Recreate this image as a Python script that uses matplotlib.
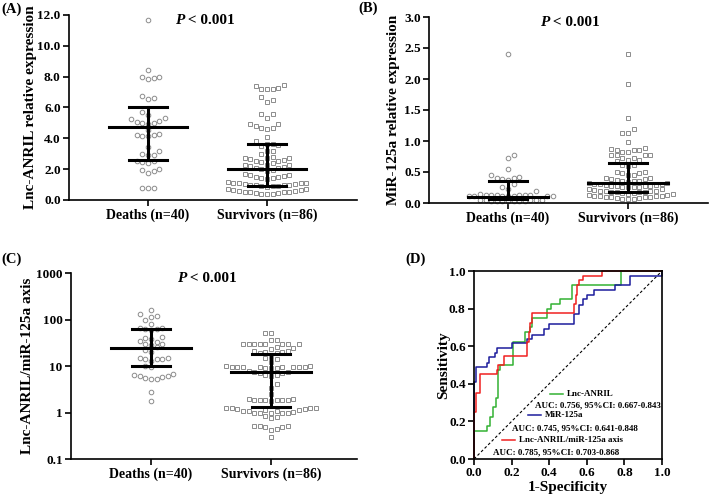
import numpy as np
import matplotlib
matplotlib.use("Agg")
import matplotlib.pyplot as plt
from matplotlib.ticker import FixedLocator, FuncFormatter

plt.rcParams['font.family'] = ['Liberation Serif', 'DejaVu Serif']
plt.rcParams['font.weight'] = 'bold'
plt.rcParams['axes.labelweight'] = 'bold'

# ---- data ----
groups = ['Deaths (n=40)', 'Survivors (n=86)']

# (A) Lnc-ANRIL relative expression
anril_deaths = [11.7, 8.45, 7.95, 7.85, 7.9, 8.0, 6.6, 6.55, 6.75, 5.7, 5.5,
                5.3, 5.1, 5.0, 4.95, 5.0, 5.05, 5.25, 4.55, 4.3, 4.2, 4.15, 4.2,
                4.15, 3.45, 3.2, 3.0, 2.9, 2.9, 2.5, 2.4, 2.45, 2.55, 2.0, 1.85,
                1.75, 1.95, 0.8, 0.8, 0.8]
anril_survivors = [7.2, 7.2, 7.2, 7.25, 7.4, 7.45,
                   6.35, 6.5, 6.65,
                   5.3, 5.6, 5.6,
                   4.6, 4.65, 4.7, 4.8, 4.95, 4.95,
                   4.1,
                   3.5, 3.55, 3.6, 3.65, 3.8,
                   3.0, 3.2, 3.2,
                   2.4, 2.45, 2.55, 2.55, 2.6, 2.65, 2.7, 2.75, 2.75, 2.8,
                   1.9, 1.95, 2.0, 2.05, 2.1, 2.15, 2.2, 2.25, 2.3, 2.3,
                   1.35, 1.4, 1.45, 1.5, 1.5, 1.55, 1.6, 1.65, 1.7,
                   0.85, 0.88, 0.9, 0.92, 0.95, 0.95, 1.0, 1.0, 1.05, 1.05, 1.1,
                   1.1, 1.12, 1.12, 1.15,
                   0.4, 0.42, 0.42, 0.45, 0.45, 0.5, 0.5, 0.55, 0.55, 0.6, 0.6,
                   0.65, 0.65, 0.7, 0.7]
anril_stats = [[2.59, 4.75, 6.01], [0.93, 1.99, 3.63]]   # Q1, median, Q3

# (B) miR-125a relative expression
mir_deaths = [2.4, 0.77, 0.73, 0.55, 0.45, 0.42, 0.40, 0.40, 0.38, 0.37, 0.30,
              0.25, 0.20, 0.22,
              0.11, 0.11, 0.115, 0.115, 0.12, 0.12, 0.12, 0.125, 0.125, 0.13,
              0.13, 0.135, 0.135, 0.14,
              0.03, 0.03, 0.03, 0.035, 0.035, 0.04, 0.04, 0.045, 0.045, 0.05,
              0.05, 0.055]
mir_survivors = [2.4, 1.92, 1.37, 1.2, 1.13, 1.13, 0.99, 0.87, 0.86, 0.85, 0.83,
                 0.83, 0.85, 0.88, 0.78, 0.77, 0.77, 0.78, 0.72, 0.70, 0.68, 0.70,
                 0.72, 0.62, 0.60, 0.62, 0.5, 0.48, 0.45, 0.45, 0.48, 0.5,
                 0.34, 0.35, 0.35, 0.36, 0.37, 0.38, 0.39, 0.40, 0.41,
                 0.25, 0.25, 0.26, 0.26, 0.27, 0.27, 0.28, 0.28, 0.29, 0.29, 0.3,
                 0.3, 0.31, 0.32, 0.32,
                 0.15, 0.15, 0.16, 0.16, 0.17, 0.17, 0.18, 0.18, 0.19, 0.19, 0.2,
                 0.2, 0.21, 0.22, 0.22,
                 0.06, 0.07, 0.07, 0.08, 0.08, 0.09, 0.09, 0.1, 0.1, 0.11, 0.11,
                 0.12, 0.12, 0.13, 0.13]
mir_stats = [[0.06, 0.1, 0.36], [0.18, 0.32, 0.65]]

# (C) Lnc-ANRIL/miR-125a axis
axis_deaths = [160, 130, 120, 115, 100, 80, 65, 65, 62, 63, 60, 42, 40, 38, 35,
               33, 30, 30, 28, 25, 22, 20, 15, 14, 14, 13, 14, 15, 10, 9.5, 6.8,
               6.2, 5.8, 5.3, 5.3, 5.6, 6.0, 6.5, 2.7, 1.8]
axis_survivors = [52, 52, 37, 30, 30, 30, 30, 30, 30, 30, 30, 37, 25, 24, 21, 20,
                  19, 19, 20, 21, 23, 16, 15, 14, 12,
                  9.8, 9.5, 9.5, 9.3, 9.3, 9.0, 9.0, 9.0, 9.3, 9.3, 9.5, 9.5, 9.8,
                  8, 7.5, 7, 6.5, 6.2, 6.5, 7, 7.5, 4.2, 3.4, 2.5,
                  1.95, 1.9, 1.9, 1.85, 1.85, 1.8, 1.85, 1.9, 1.95,
                  1.25, 1.22, 1.2, 1.15, 1.1, 1.1, 1.05, 1.0, 1.0, 0.98, 0.97, 1.0,
                  1.1, 1.15, 1.2, 1.22, 1.25,
                  0.85, 0.8, 0.75, 0.52, 0.5, 0.48, 0.45, 0.42, 0.48, 0.5, 0.3]
axis_stats = [[10.1, 24, 62], [1.3, 7.5, 18]]

# (D) ROC curves (1-specificity, sensitivity), step points
anril_fpr = [0, 0, 0.07, 0.085, 0.10, 0.115, 0.125, 0.13, 0.14, 0.21, 0.27, 0.30,
             0.31, 0.39, 0.41, 0.46, 0.52, 0.78, 1.0]
anril_tpr = [0, 0.15, 0.175, 0.225, 0.275, 0.325, 0.375, 0.475, 0.5, 0.625, 0.675,
             0.70, 0.75, 0.80, 0.825, 0.85, 0.925, 1.0, 1.0]
mir_fpr = [0, 0, 0.01, 0.07, 0.08, 0.11, 0.12, 0.20, 0.28, 0.31, 0.37, 0.40, 0.53,
           0.56, 0.58, 0.60, 0.64, 0.75, 0.83, 1.0, 1.0]
mir_tpr = [0, 0.41, 0.49, 0.51, 0.54, 0.565, 0.59, 0.615, 0.64, 0.66, 0.69, 0.72,
           0.77, 0.82, 0.85, 0.875, 0.90, 0.925, 0.975, 0.975, 1.0]
ratio_fpr = [0, 0, 0.01, 0.03, 0.12, 0.13, 0.16, 0.28, 0.29, 0.30, 0.31, 0.53,
             0.54, 0.55, 0.56, 0.58, 0.68, 1.0]
ratio_tpr = [0, 0.25, 0.35, 0.45, 0.475, 0.50, 0.55, 0.625, 0.675, 0.725, 0.775,
             0.825, 0.875, 0.925, 0.95, 0.975, 1.0, 1.0]
roc_names = ['Lnc-ANRIL', 'MiR-125a', 'Lnc-ANRIL/miR-125a axis']
roc_auc = ['AUC: 0.756, 95%CI: 0.667-0.843',
           'AUC: 0.745, 95%CI: 0.641-0.848',
           'AUC: 0.785, 95%CI: 0.703-0.868']
roc_colors = ['#33b233', '#1c1c9c', '#f02020']

W, H = 709, 498
fig = plt.figure(figsize=(W / 100, H / 100), dpi=100)


def px_axes(left, top, right, bottom):
    # axes placed from pixel edges of the reference picture
    return fig.add_axes([left / W, 1 - bottom / H, (right - left) / W, (bottom - top) / H])


def swarm_x(ax, center, values, col_w=5.6, row_h=5.5):
    '''
    GraphPad-like scatter: points sorted by y drop into the column
    nearest the centre that still has room (pixel units)
    '''
    values = np.asarray(values, dtype=float)
    pts = ax.transData.transform(np.column_stack([np.full(len(values), center), values]))
    ypx = pts[:, 1]
    x0 = pts[0, 0]
    tops = {}          # column index -> highest y placed so far
    cols = np.zeros(len(values))
    flip = 1
    for i in np.argsort(ypx, kind='stable'):
        k = 0
        while True:
            cands = [0] if k == 0 else [flip * k, -flip * k]
            free = [c for c in cands if c not in tops or ypx[i] - tops[c] >= row_h]
            if free:
                break
            k += 1
        c = free[0]
        if k > 0:
            flip = -flip
        tops[c] = ypx[i]
        cols[i] = c
    back = ax.transData.inverted().transform(np.column_stack([x0 + cols * col_w, ypx]))
    return back[:, 0]


def style_axes(ax):
    for s in ['top', 'right']:
        ax.spines[s].set_visible(False)
    for s in ['left', 'bottom']:
        ax.spines[s].set_linewidth(1.2)
    ax.tick_params(width=1.2, length=4, labelsize=9.5, pad=2)


def dot_panel(ax, deaths, survivors, stats, xlim, ylim, ylabel, label_x, log=False):
    if log:
        ax.set_yscale('log')
    ax.set_xlim(xlim)
    ax.set_ylim(ylim)
    style_axes(ax)
    ax.set_xticks([0, 1])
    ax.set_xticklabels(groups, fontsize=10, fontweight='bold')
    ax.set_ylabel(ylabel, fontsize=11, fontweight='bold')
    ax.yaxis.set_label_coords(label_x, 0.5)
    xd = swarm_x(ax, 0, deaths)
    xs = swarm_x(ax, 1, survivors)
    ax.plot(xd, deaths, 'o', ms=3.3, mfc='none', mec='#8c8c8c', mew=0.7, clip_on=False)
    ax.plot(xs, survivors, 's', ms=3.2, mfc='none', mec='#8c8c8c', mew=0.7, clip_on=False)
    # median with interquartile range
    for pos, (q1, med, q3) in enumerate(stats):
        ax.plot([pos - 0.33, pos + 0.33], [med, med], color='black', lw=2.2, zorder=5)
        ax.plot([pos - 0.16, pos + 0.16], [q1, q1], color='black', lw=2.2, zorder=5)
        ax.plot([pos - 0.16, pos + 0.16], [q3, q3], color='black', lw=2.2, zorder=5)
        ax.plot([pos, pos], [q1, q3], color='black', lw=2.2, zorder=5)


def p_text(x_px, y_px):
    # italic P, then the rest
    fig.text(x_px / W, 1 - y_px / H, 'P', style='italic', fontweight='bold',
             fontsize=11, ha='right', va='center')
    fig.text(x_px / W, 1 - y_px / H, ' < 0.001', fontweight='bold',
             fontsize=11, ha='left', va='center')


# (A)
axA = px_axes(69, 15, 357, 200)
dot_panel(axA, anril_deaths, anril_survivors, anril_stats, (-0.664, 1.756), (0, 12),
          'Lnc-ANRIL relative expression', -0.112)
axA.set_yticks(np.arange(0, 12.1, 2))
axA.yaxis.set_major_formatter(FuncFormatter(lambda v, p: '%.1f' % v))
p_text(184, 21)

# (B)
axB = px_axes(429, 17, 708, 203)
dot_panel(axB, mir_deaths, mir_survivors, mir_stats, (-0.658, 1.667), (0, 3),
          'MiR-125a relative expression', -0.104)
axB.set_yticks(np.arange(0, 3.01, 0.5))
axB.yaxis.set_major_formatter(FuncFormatter(lambda v, p: '%.1f' % v))
p_text(549, 23)

# (C)
axC = px_axes(71, 273, 357, 459)
dot_panel(axC, axis_deaths, axis_survivors, axis_stats, (-0.667, 1.717), (0.1, 1000),
          'Lnc-ANRIL/miR-125a axis', -0.128, log=True)
axC.yaxis.set_major_locator(FixedLocator([0.1, 1, 10, 100, 1000]))
axC.yaxis.set_minor_locator(FixedLocator([]))
axC.yaxis.set_major_formatter(FuncFormatter(lambda v, p: '%g' % v))
p_text(186, 279)

# (D) ROC
axD = px_axes(474, 271, 662, 459)
axD.set_xlim(0, 1)
axD.set_ylim(0, 1)
for s in axD.spines.values():
    s.set_linewidth(1.2)
axD.tick_params(width=1.2, length=4, labelsize=9.5, pad=2)
axD.set_xticks(np.arange(0, 1.01, 0.2))
axD.set_yticks(np.arange(0, 1.01, 0.2))
axD.xaxis.set_major_formatter(FuncFormatter(lambda v, p: '%.1f' % v))
axD.yaxis.set_major_formatter(FuncFormatter(lambda v, p: '%.1f' % v))
axD.plot([0, 1], [0, 1], color='black', lw=0.8, ls=(0, (2.5, 2)))
axD.plot(anril_fpr, anril_tpr, drawstyle='steps-post', color=roc_colors[0], lw=1.1, clip_on=False)
axD.plot(mir_fpr, mir_tpr, drawstyle='steps-post', color=roc_colors[1], lw=1.1, clip_on=False)
axD.plot(ratio_fpr, ratio_tpr, drawstyle='steps-post', color=roc_colors[2], lw=1.1, clip_on=False)
axD.set_xlabel('1-Specificity', fontsize=11, fontweight='bold')
axD.set_ylabel('Sensitivity', fontsize=11, fontweight='bold')
axD.xaxis.set_label_coords(0.5, -0.118)
axD.yaxis.set_label_coords(-0.128, 0.5)

# legend drawn by hand, staggered like the original
leg_rows = [(550, 394, 535, 405), (528, 415, 512, 428), (502, 440, 493, 452)]
for (hx, hy, ax_x, ay), name, auc, col in zip(leg_rows, roc_names, roc_auc, roc_colors):
    axD.plot([(hx - 474) / 188, (hx + 13 - 474) / 188], [(459 - hy) / 188] * 2,
             color=col, lw=1.1, transform=axD.transAxes)
    axD.text((hx + 17 - 474) / 188, (459 - hy) / 188, name, transform=axD.transAxes,
             fontsize=6.5, fontweight='bold', va='center', ha='left')
    axD.text((ax_x - 474) / 188, (459 - ay) / 188, auc, transform=axD.transAxes,
             fontsize=6.5, fontweight='bold', va='center', ha='left')

# panel letters
for lab, x, y in [('(A)', 1, 9), ('(B)', 358, 8), ('(C)', 1, 259), ('(D)', 405, 259)]:
    fig.text(x / W, 1 - y / H, lab, fontsize=10.5, fontweight='bold', va='center', ha='left')

fig.savefig('out.png', dpi=100)
